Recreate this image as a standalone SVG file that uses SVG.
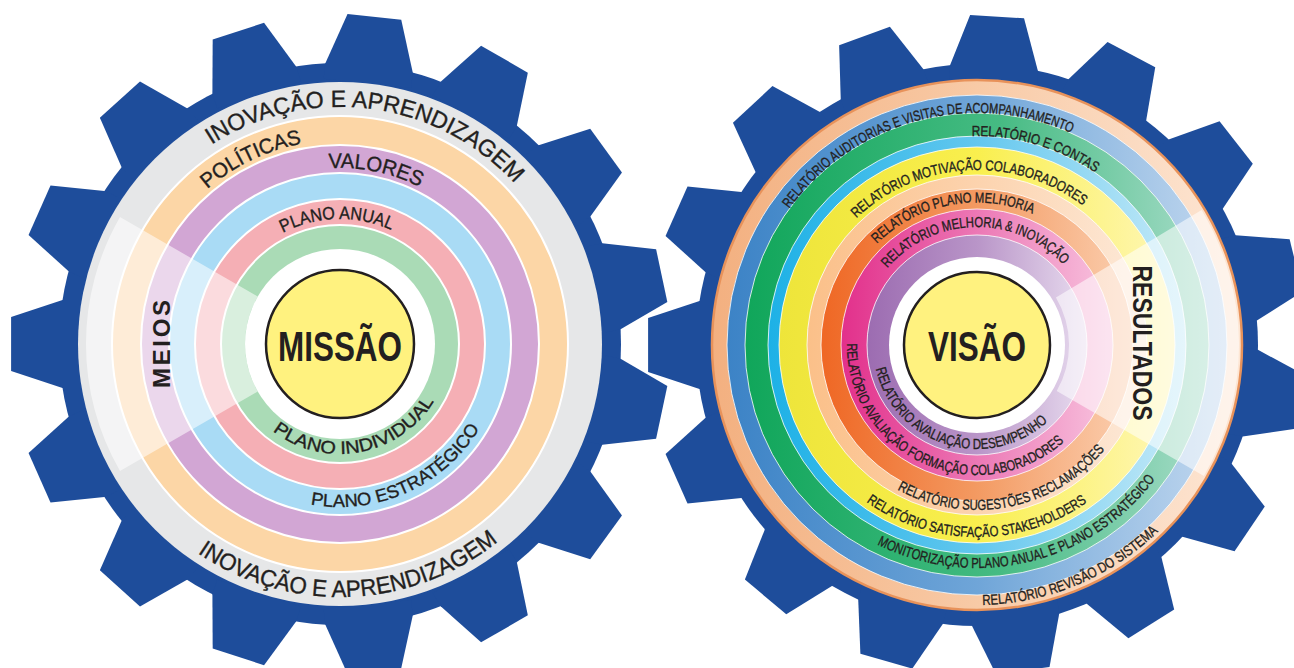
<svg xmlns="http://www.w3.org/2000/svg" width="1294" height="668" viewBox="0 0 1294 668">
<style>
.gear{fill:#1e4d9b}
.t{font-family:"Liberation Sans",Arial,sans-serif;fill:#231f20}
.k{stroke:#231f20;stroke-width:0.35}
.s{font-size:14.5px}
.m{font-size:18px}
.l{font-size:21px}
.xl{font-size:23.5px}
.b{font-weight:bold}
.sep{stroke:#fff;stroke-width:2}
.sep1{stroke:#fff;stroke-opacity:.8;stroke-width:1}
.hub{fill:#fff27f;stroke:#231f20;stroke-width:2.5}
.veil{fill:#fff;fill-opacity:.55}
</style>
<defs>
<polygon id="tooth" points="262,-44 277.5,-44 328.9,-27 328.9,27 277.5,44 262,44"/>
<linearGradient id="gPO" x1="0" y1="0" x2="1" y2="0"><stop offset="0" stop-color="#f3b080"/><stop offset="0.5" stop-color="#f8caa6"/><stop offset="1" stop-color="#fde6d4"/></linearGradient>
<linearGradient id="gBl" x1="0" y1="0" x2="1" y2="0"><stop offset="0" stop-color="#3c83c6"/><stop offset="0.5" stop-color="#6fa5d8"/><stop offset="1" stop-color="#c2d8ef"/></linearGradient>
<linearGradient id="gGr" x1="0" y1="0" x2="1" y2="0"><stop offset="0" stop-color="#10a65a"/><stop offset="0.55" stop-color="#46bb83"/><stop offset="1" stop-color="#a6dcc8"/></linearGradient>
<linearGradient id="gCy" x1="0" y1="0" x2="1" y2="0"><stop offset="0" stop-color="#1db1e6"/><stop offset="0.5" stop-color="#63c7ee"/><stop offset="1" stop-color="#c6eaf8"/></linearGradient>
<linearGradient id="gYe" x1="0" y1="0" x2="1" y2="0"><stop offset="0" stop-color="#eee53a"/><stop offset="0.5" stop-color="#f9ef4e"/><stop offset="1" stop-color="#fff7b8"/></linearGradient>
<linearGradient id="gPe" x1="0" y1="0" x2="1" y2="0"><stop offset="0" stop-color="#fbc089"/><stop offset="0.5" stop-color="#fcd3ae"/><stop offset="1" stop-color="#fde9d8"/></linearGradient>
<linearGradient id="gOr" x1="0" y1="0" x2="1" y2="0"><stop offset="0" stop-color="#ef6724"/><stop offset="0.5" stop-color="#f39a62"/><stop offset="1" stop-color="#fbcfb0"/></linearGradient>
<linearGradient id="gMa" x1="0" y1="0" x2="1" y2="0"><stop offset="0" stop-color="#e2308b"/><stop offset="0.5" stop-color="#ec78b5"/><stop offset="1" stop-color="#f8c4df"/></linearGradient>
<linearGradient id="gPu" x1="0" y1="0" x2="1" y2="0"><stop offset="0" stop-color="#9c6cb1"/><stop offset="0.5" stop-color="#b995c8"/><stop offset="1" stop-color="#e8dcef"/></linearGradient>
<path id="lc237" d="M103,344 A237,237 0 1 1 577,344 A237,237 0 1 1 103,344"/>
<path id="lc204" d="M136,344 A204,204 0 1 1 544,344 A204,204 0 1 1 136,344"/>
<path id="lc176" d="M164,344 A176,176 0 1 1 516,344 A176,176 0 1 1 164,344"/>
<path id="lc125" d="M215,344 A125,125 0 1 1 465,344 A125,125 0 1 1 215,344"/>
<path id="lw110" d="M340,234 A110,110 0 1 0 340,454 A110,110 0 1 0 340,234"/>
<path id="lw163" d="M340,181 A163,163 0 1 0 340,507 A163,163 0 1 0 340,181"/>
<path id="lw253" d="M340,91 A253,253 0 1 0 340,597 A253,253 0 1 0 340,91"/>
<path id="rc232" d="M745,345 A232,232 0 1 1 1209,345 A232,232 0 1 1 745,345"/>
<path id="rc209" d="M768,345 A209,209 0 1 1 1186,345 A209,209 0 1 1 768,345"/>
<path id="rc175" d="M802,345 A175,175 0 1 1 1152,345 A175,175 0 1 1 802,345"/>
<path id="rc142" d="M834.5,345 A142.5,142.5 0 1 1 1119.5,345 A142.5,142.5 0 1 1 834.5,345"/>
<path id="rc118" d="M859,345 A118,118 0 1 1 1095,345 A118,118 0 1 1 859,345"/>
<path id="rw104" d="M977,241 A104,104 0 1 0 977,449 A104,104 0 1 0 977,241"/>
<path id="rw130" d="M977,215 A130,130 0 1 0 977,475 A130,130 0 1 0 977,215"/>
<path id="rw165" d="M977,180 A165,165 0 1 0 977,510 A165,165 0 1 0 977,180"/>
<path id="rw192" d="M977,153 A192,192 0 1 0 977,537 A192,192 0 1 0 977,153"/>
<path id="rw223" d="M977,122 A223,223 0 1 0 977,568 A223,223 0 1 0 977,122"/>
<path id="rw260" d="M977,85 A260,260 0 1 0 977,605 A260,260 0 1 0 977,85"/>
</defs>
<rect width="1294" height="668" fill="#fff"/>

<g id="gear-left">
  <g class="gear" transform="translate(340,344)">
    <circle r="281"/>
    <use href="#tooth" transform="rotate(12)"/><use href="#tooth" transform="rotate(36)"/><use href="#tooth" transform="rotate(60)"/>
    <use href="#tooth" transform="rotate(84)"/><use href="#tooth" transform="rotate(108)"/><use href="#tooth" transform="rotate(132)"/>
    <use href="#tooth" transform="rotate(156)"/><use href="#tooth" transform="rotate(180)"/><use href="#tooth" transform="rotate(204)"/>
    <use href="#tooth" transform="rotate(228)"/><use href="#tooth" transform="rotate(252)"/><use href="#tooth" transform="rotate(276)"/>
    <use href="#tooth" transform="rotate(300)"/><use href="#tooth" transform="rotate(324)"/><use href="#tooth" transform="rotate(348)"/>
  </g>
  <g id="left-rings" transform="translate(340,344)">
    <circle r="262" fill="#e6e7e8"/>
    <circle r="228" fill="#fcd6a6" class="sep"/>
    <circle r="199" fill="#d2a6d4" class="sep"/>
    <circle r="171" fill="#a9dbf5" class="sep"/>
    <circle r="145" fill="#f5afb5" class="sep"/>
    <circle r="119" fill="#aadbb6" class="sep"/>
    <circle r="95" fill="#fff"/>
  </g>
  <g id="meios">
    <path class="veil" d="M120,217 A254,254 0 0 0 120,471 L257.7,391.5 A95,95 0 0 1 257.7,296.5 Z"/>
    <text class="t b" font-size="24" text-anchor="middle" textLength="88" lengthAdjust="spacing" transform="translate(170,344) rotate(-90)">MEIOS</text>
  </g>
  <g id="inovacao-top"><text class="t k xl" text-anchor="middle"><textPath href="#lc237" startOffset="27.03%" textLength="332" lengthAdjust="spacingAndGlyphs">INOVAÇÃO E APRENDIZAGEM</textPath></text></g>
  <g id="politicas"><text class="t k l" text-anchor="middle"><textPath href="#lc204" startOffset="17.86%" textLength="106" lengthAdjust="spacingAndGlyphs">POLÍTICAS</textPath></text></g>
  <g id="valores"><text class="t k l" text-anchor="middle"><textPath href="#lc176" startOffset="28.22%" textLength="94" lengthAdjust="spacingAndGlyphs">VALORES</textPath></text></g>
  <g id="plano-anual"><text class="t k m" font-size="17.5" text-anchor="middle"><textPath href="#lc125" startOffset="24.58%" textLength="112" lengthAdjust="spacingAndGlyphs">PLANO ANUAL</textPath></text></g>
  <g id="plano-individual"><text class="t k m" text-anchor="middle"><textPath href="#lw110" startOffset="52.89%" textLength="185" lengthAdjust="spacingAndGlyphs">PLANO INDIVIDUAL</textPath></text></g>
  <g id="plano-estrategico"><text class="t k m" text-anchor="middle"><textPath href="#lw163" startOffset="56.72%" textLength="197" lengthAdjust="spacingAndGlyphs">PLANO ESTRATÉGICO</textPath></text></g>
  <g id="inovacao-bottom"><text class="t k xl" text-anchor="middle"><textPath href="#lw253" startOffset="50.61%" textLength="322" lengthAdjust="spacingAndGlyphs">INOVAÇÃO E APRENDIZAGEM</textPath></text></g>
  <g id="missao">
    <circle class="hub" cx="340" cy="344" r="74"/>
    <text class="t b" x="340" y="361" font-size="42" text-anchor="middle" textLength="124" lengthAdjust="spacingAndGlyphs">MISSÃO</text>
  </g>
</g>

<g id="gear-right">
  <g class="gear" transform="translate(977,345)">
    <circle r="281"/>
    <use href="#tooth" transform="rotate(10)"/><use href="#tooth" transform="rotate(34)"/><use href="#tooth" transform="rotate(58)"/>
    <use href="#tooth" transform="rotate(82)"/><use href="#tooth" transform="rotate(106)"/><use href="#tooth" transform="rotate(130)"/>
    <use href="#tooth" transform="rotate(156)"/><use href="#tooth" transform="rotate(180)"/><use href="#tooth" transform="rotate(204)"/>
    <use href="#tooth" transform="rotate(227)"/><use href="#tooth" transform="rotate(250)"/><use href="#tooth" transform="rotate(273.5)"/>
    <use href="#tooth" transform="rotate(298)"/><use href="#tooth" transform="rotate(322)"/><use href="#tooth" transform="rotate(346)"/>
  </g>
  <g id="right-rings" transform="translate(977,345)">
    <circle r="265" fill="url(#gPO)" stroke="#e8925a" stroke-width="2.5"/>
    <circle r="250" fill="url(#gBl)" class="sep1"/>
    <circle r="232" fill="url(#gGr)" class="sep1"/>
    <circle r="209" fill="url(#gCy)" class="sep1"/>
    <circle r="198" fill="url(#gYe)" class="sep1"/>
    <circle r="170" fill="url(#gPe)" class="sep1"/>
    <circle r="156" fill="url(#gOr)" class="sep1"/>
    <circle r="136" fill="url(#gMa)" class="sep1"/>
    <circle r="110" fill="url(#gPu)" class="sep1"/>
    <circle r="88" fill="#fff"/>
  </g>
  <g id="resultados">
    <path class="veil" d="M1055.9,297.6 L1201.6,210.1 A262,262 0 0 1 1203.9,476 L1056.7,391 A92,92 0 0 0 1055.9,297.6 Z"/>
    <text class="t b" font-size="27" text-anchor="middle" textLength="155" lengthAdjust="spacingAndGlyphs" transform="translate(1133,343) rotate(90)">RESULTADOS</text>
  </g>
  <g id="r-auditorias"><text class="t k s" text-anchor="middle"><textPath href="#rc232" startOffset="20.83%" textLength="316" lengthAdjust="spacingAndGlyphs">RELATÓRIO AUDITORIAS E VISITAS DE ACOMPANHAMENTO</textPath></text></g>
  <g id="r-contas"><text class="t k s" text-anchor="middle"><textPath href="#rc209" startOffset="29.58%" textLength="131" lengthAdjust="spacingAndGlyphs">RELATÓRIO E CONTAS</textPath></text></g>
  <g id="r-motivacao"><text class="t k s" text-anchor="middle"><textPath href="#rc175" startOffset="24.11%" textLength="247" lengthAdjust="spacingAndGlyphs">RELATÓRIO MOTIVAÇÃO COLABORADORES</textPath></text></g>
  <g id="r-plano-melhoria"><text class="t k s" text-anchor="middle"><textPath href="#rc142" startOffset="21.97%" textLength="168" lengthAdjust="spacingAndGlyphs">RELATÓRIO PLANO MELHORIA</textPath></text></g>
  <g id="r-melhoria-inovacao"><text class="t k s" text-anchor="middle"><textPath href="#rc118" startOffset="24.67%" textLength="199" lengthAdjust="spacingAndGlyphs">RELATÓRIO MELHORIA &amp; INOVAÇÃO</textPath></text></g>
  <g id="r-desempenho"><text class="t k s" text-anchor="middle"><textPath href="#rw104" startOffset="45.28%" textLength="217" lengthAdjust="spacingAndGlyphs">RELATÓRIO AVALIAÇÃO DESEMPENHO</textPath></text></g>
  <g id="r-formacao"><text class="t k s" text-anchor="middle"><textPath href="#rw130" startOffset="43.25%" textLength="301" lengthAdjust="spacingAndGlyphs">RELATÓRIO AVALIAÇÃO FORMAÇÃO COLABORADORES</textPath></text></g>
  <g id="r-sugestoes"><text class="t k s" text-anchor="middle"><textPath href="#rw165" startOffset="53.03%" textLength="229" lengthAdjust="spacingAndGlyphs">RELATÓRIO SUGESTÕES RECLAMAÇÕES</textPath></text></g>
  <g id="r-satisfacao"><text class="t k s" text-anchor="middle"><textPath href="#rw192" startOffset="49.97%" textLength="235" lengthAdjust="spacingAndGlyphs">RELATÓRIO SATISFAÇÃO STAKEHOLDERS</textPath></text></g>
  <g id="r-monitorizacao"><text class="t k s" text-anchor="middle"><textPath href="#rw223" startOffset="53.67%" textLength="310" lengthAdjust="spacingAndGlyphs">MONITORIZAÇÃO PLANO ANUAL E PLANO ESTRATÉGICO</textPath></text></g>
  <g id="r-revisao"><text class="t k s" text-anchor="middle"><textPath href="#rw260" startOffset="56.31%" textLength="195" lengthAdjust="spacingAndGlyphs">RELATÓRIO REVISÃO DO SISTEMA</textPath></text></g>
  <g id="visao">
    <circle class="hub" cx="977" cy="345" r="73"/>
    <text class="t b" x="977" y="361" font-size="42" text-anchor="middle" textLength="98" lengthAdjust="spacingAndGlyphs">VISÃO</text>
  </g>
</g>
<g id="connectors"/>
</svg>
